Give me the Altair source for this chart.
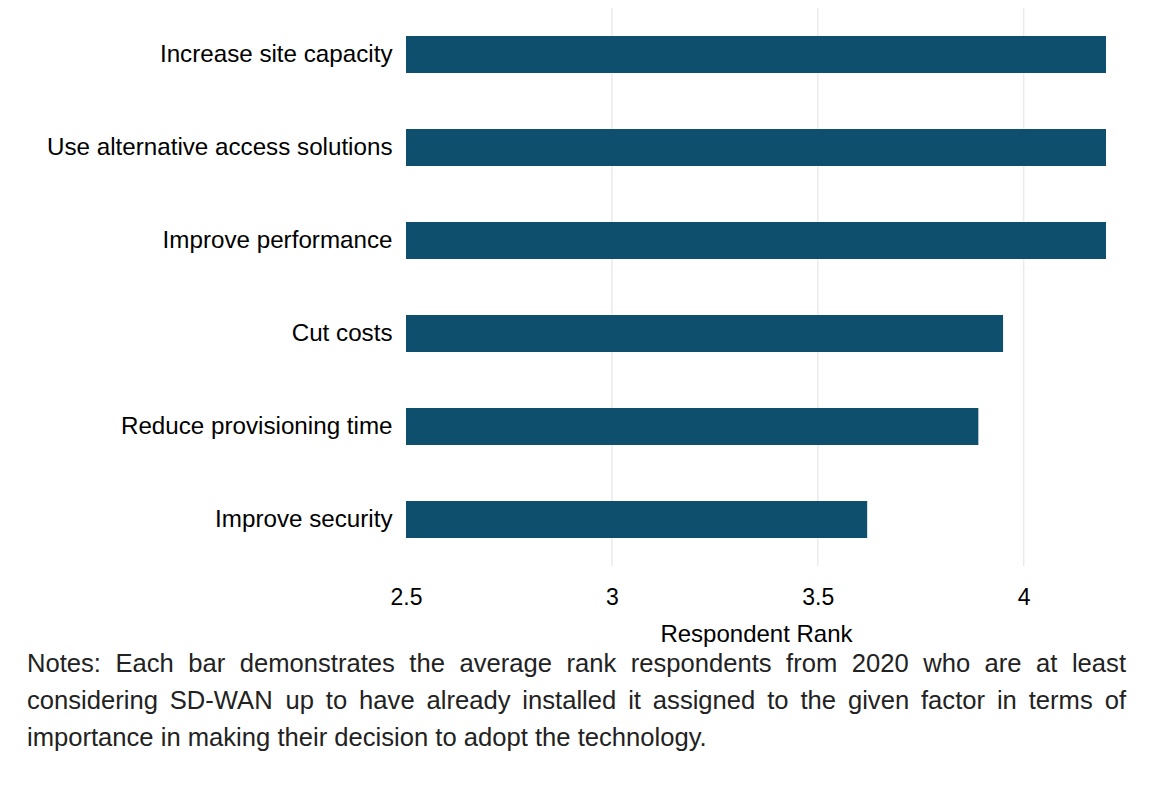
import altair as alt
import pandas as pd

# ---- data ----
factors = [
    "Increase site capacity",
    "Use alternative access solutions",
    "Improve performance",
    "Cut costs",
    "Reduce provisioning time",
    "Improve security",
]
ranks = [4.20, 4.20, 4.20, 3.95, 3.89, 3.62]
x_ticks = [2.5, 3, 3.5, 4]
grid_values = [3, 3.5, 4]
note_lines = [
    "Notes: Each bar demonstrates the average rank respondents from 2020 who are at least",
    "considering SD-WAN up to have already installed it assigned to the given factor in terms of",
    "importance in making their decision to adopt the technology.",
]

FONT = "Liberation Sans"
BAR = "#0e4f6e"
NOTE_SIZE = 25.6

# Arial / Liberation Sans advance widths (per 1000 em)
W = dict(zip("abcdefghijklmnopqrstuvwxyz",
             [556, 556, 500, 556, 556, 278, 556, 556, 222, 222, 500, 222, 833,
              556, 556, 556, 556, 333, 500, 278, 556, 500, 722, 500, 500, 500]))
W.update({"N": 722, "E": 667, "S": 667, "D": 722, "W": 944, "A": 667,
          ":": 278, ".": 278, "-": 333, " ": 278})
for d in "0123456789":
    W[d] = 556


def width(s):
    return sum(W.get(c, 556) for c in s) * NOTE_SIZE / 1000.0


left_px = 27 - 406
right_px = 1126 - 406
rows = []
for li, line in enumerate(note_lines):
    words = line.split(" ")
    ws = [width(w) for w in words]
    justify = li < len(note_lines) - 1
    if justify:
        gap = (right_px - left_px - sum(ws)) / (len(words) - 1)
    else:
        gap = width(" ")
    x = left_px
    for w, wd in zip(words, ws):
        rows.append({"word": w, "px": x, "py": 656 + 37 * li})
        x += wd + gap
notes_df = pd.DataFrame(rows)

df = pd.DataFrame({"factor": factors, "rank": ranks})
grid_df = pd.DataFrame({"g": grid_values})

xscale = alt.Scale(domain=[2.5, 4.2], nice=False, zero=False)

grid = alt.Chart(grid_df).mark_rule(color="#ebebeb", strokeWidth=1.5).encode(
    x=alt.X("g:Q", scale=xscale),
)

bars = alt.Chart(df).mark_bar(color=BAR, clip=True).encode(
    x=alt.X(
        "rank:Q",
        scale=xscale,
        axis=alt.Axis(
            values=x_ticks,
            format=".1~f",
            title="Respondent Rank",
            labelFontSize=23,
            titleFontSize=24,
            labelFont=FONT,
            titleFont=FONT,
            labelColor="#000000",
            titleColor="#000000",
            titleFontWeight="normal",
            labelPadding=20,
            titlePadding=13,
            ticks=False,
            domain=False,
            grid=False,
            labelFlush=False,
        ),
    ),
    y=alt.Y(
        "factor:N",
        sort=factors,
        scale=alt.Scale(paddingInner=0.6, paddingOuter=0.3),
        axis=alt.Axis(
            title=None,
            labelFontSize=24.2,
            labelFont=FONT,
            labelColor="#000000",
            labelPadding=14,
            ticks=False,
            domain=False,
            grid=False,
            labelLimit=500,
        ),
    ),
)

notes = alt.Chart(notes_df).mark_text(
    align="left", baseline="middle", font=FONT, fontSize=NOTE_SIZE, color="#222222"
).encode(
    x=alt.X("px:Q", scale=None, axis=None),
    y=alt.Y("py:Q", scale=None, axis=None),
    text="word:N",
)

main = alt.layer(grid, bars)

chart = alt.layer(main, notes).resolve_scale(x="independent", y="independent").properties(
    width=700,
    height=558,
    autosize=alt.AutoSizeParams(type="none"),
    padding={"left": 398, "top": 0, "right": 50, "bottom": 200},
    background="white",
).configure_view(strokeWidth=0, stroke="transparent")

chart.save("out.html", embed_options={"renderer": "svg", "actions": False})
